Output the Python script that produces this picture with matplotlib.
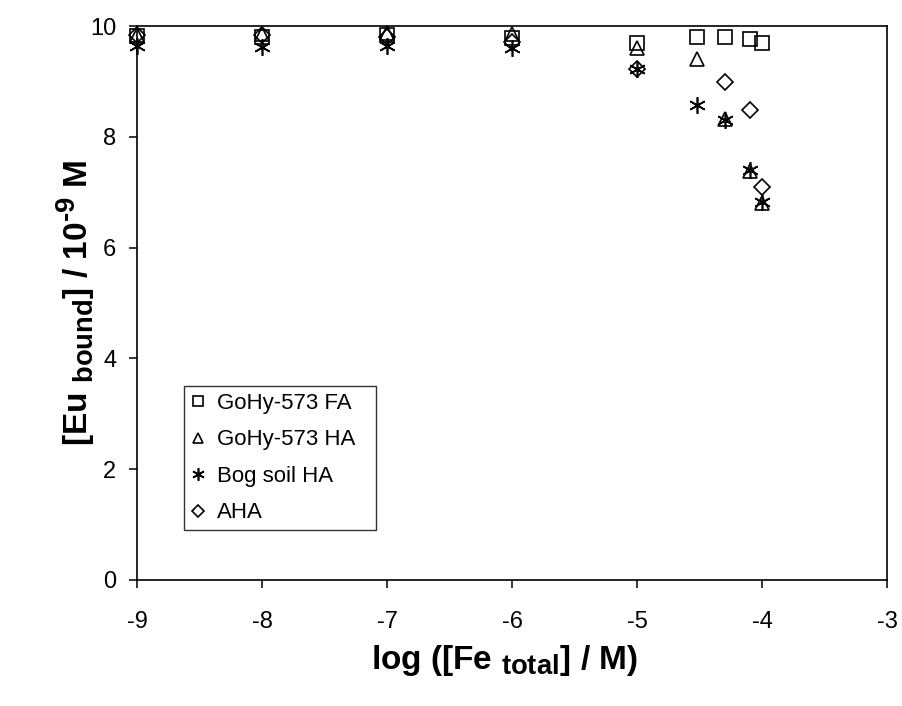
import numpy as np
import matplotlib
matplotlib.use("Agg")
import matplotlib.pyplot as plt
import matplotlib._mathtext as mt

# larger sub/superscripts, like the original chart
mt.SHRINK_FACTOR = 0.82

plt.rcParams['font.family'] = ['Liberation Sans', 'DejaVu Sans']
plt.rcParams['mathtext.fontset'] = 'custom'
plt.rcParams['mathtext.rm'] = 'Liberation Sans'
plt.rcParams['mathtext.bf'] = 'Liberation Sans:bold'
plt.rcParams['axes.unicode_minus'] = False

# log [Fe_total]
log_fe = [-9, -8, -7, -6, -5, -4.52, -4.30, -4.10, -4.0]
log_fe_aha = [-9, -8, -7, -6, -5, -4.30, -4.10, -4.0]

# [Eu_bound] / 1e-9 M
gohy_fa = [9.82, 9.80, 9.84, 9.78, 9.70, 9.81, 9.81, 9.76, 9.70]
gohy_ha = [9.84, 9.86, 9.88, 9.86, 9.60, 9.40, 8.33, 7.38, 6.80]
bog_ha = [9.64, 9.63, 9.65, 9.60, 9.22, 8.57, 8.30, 7.40, 6.83]
aha = [9.84, 9.84, 9.80, 9.72, 9.22, 8.99, 8.49, 7.10]

fig = plt.figure(figsize=(9.03, 7.06), dpi=100)
ax = fig.add_axes([0.152, 0.1785, 0.8306, 0.7845])

kw = dict(linestyle='none', color='black', markerfacecolor='none',
          markeredgewidth=1.2, clip_on=False)
ax.plot(log_fe, gohy_fa, marker='s', markersize=10.5, label='GoHy-573 FA', **kw)
ax.plot(log_fe, gohy_ha, marker='^', markersize=10, label='GoHy-573 HA', **kw)
ax.plot(log_fe, bog_ha, marker=(6, 2, 0), markersize=12, label='Bog soil HA', **kw)
ax.plot(log_fe_aha, aha, marker='D', markersize=8, label='AHA', **kw)

ax.set_xlim(-9, -3)
ax.set_ylim(0, 10)
ax.set_xticks(np.arange(-9, -2, 1))
ax.set_yticks(np.arange(0, 11, 2))
ax.tick_params(direction='out', length=6, width=1.1, labelsize=17)
ax.tick_params(axis='x', pad=16)
ax.tick_params(axis='y', pad=9)
for s in ax.spines.values():
    s.set_linewidth(1.2)

ax.set_xlabel(r'log ([Fe $\mathbf{_{total}}$] / M)', fontsize=24, fontweight='bold',
              va='center')
ax.set_ylabel('[Eu $\\mathbf{_{bound}}$] / 10$\\mathbf{^{\u20109}}$ M', fontsize=24,
              fontweight='bold', va='center')
ax.xaxis.set_label_coords(0.49, -0.145)
ax.yaxis.set_label_coords(-0.082, 0.50)

leg = ax.legend(loc='upper left', bbox_to_anchor=(0.062, 0.35, 0.256, 0.0),
                mode='expand', fontsize=16, frameon=True, fancybox=False,
                borderaxespad=0, handlelength=0.7, handletextpad=0.5,
                labelspacing=0.7, markerscale=0.75, borderpad=0.3)
leg.get_frame().set_edgecolor('black')
leg.get_frame().set_linewidth(1.0)

fig.savefig('out.png', dpi=100)
